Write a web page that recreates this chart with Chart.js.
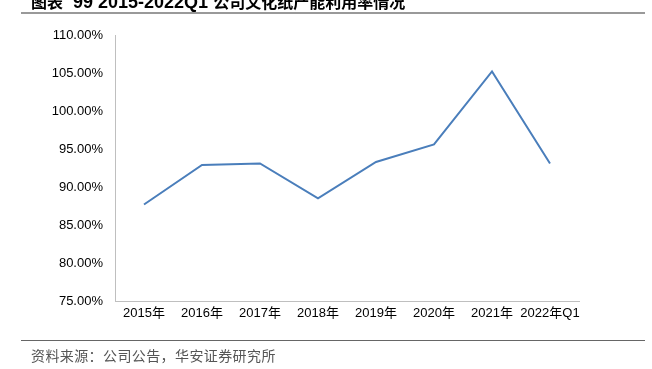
<!DOCTYPE html>
<html>
<head>
<meta charset="utf-8">
<script src="https://cdn.jsdelivr.net/npm/chart.js@4"></script>
<style>
  html, body { margin: 0; padding: 0; background: #fff; }
  #wrap { position: relative; width: 652px; height: 369px; overflow: hidden; }
  #myChart { position: absolute; left: 0; top: 0; }
  .title { position: absolute; left: 31px; top: -11px; white-space: nowrap; font-weight: bold; color: #000; font-family: "Liberation Sans", "Noto Sans CJK SC", sans-serif; }
  .title .lat { font-size: 18px; }
  .title .cjk { font-size: 16px; font-family: "Noto Sans CJK SC", sans-serif; }
  .topline { position: absolute; left: 21px; width: 624px; top: 12px; height: 2px; background: #999; }
  .botline { position: absolute; left: 21px; width: 624px; top: 340px; height: 1px; background: #666; }
  .source { position: absolute; left: 31px; top: 345px; font-size: 14px; color: #555; font-family: "Noto Sans CJK SC", sans-serif; letter-spacing: 0.4px; white-space: nowrap; }
</style>
</head>
<body>
<div id="wrap">
  <canvas id="myChart" width="652" height="369"></canvas>
  <div class="title"><span class="cjk">图表</span><span class="lat">&nbsp; 99 2015-2022Q1 </span><span class="cjk">公司文化纸产能利用率情况</span></div>
  <div class="topline"></div>
  <div class="botline"></div>
  <div class="source">资料来源：公司公告，华安证券研究所</div>
</div>
<script>
var years = ['2015年', '2016年', '2017年', '2018年', '2019年', '2020年', '2021年', '2022年Q1'];
var utilRate = [87.7, 92.9, 93.1, 88.5, 93.3, 95.6, 105.2, 93.1];
var yTicks = [75, 80, 85, 90, 95, 100, 105, 110];

var tickFont = { family: '"Liberation Sans", "Noto Sans CJK SC", sans-serif', size: 13 };

var ctx = document.getElementById('myChart').getContext('2d');
var myChart = new Chart(ctx, {
    type: 'line',
    data: {
      labels: years,
      datasets: [{
          data: utilRate,
          borderColor: '#4a7ebb',
          backgroundColor: '#4a7ebb',
          borderWidth: 2,
          pointRadius: 0,
          tension: 0
      }]
    },
    options: {
      responsive: false,
      animation: false,
      layout: { padding: { top: 35, right: 73, left: 0, bottom: 0 } },
      plugins: { legend: { display: false }, tooltip: { enabled: false } },
      scales: {
        x: {
          offset: true,
          grid: { display: false, drawTicks: false },
          border: { display: true, color: '#bfbfbf', width: 1 },
          ticks: { color: '#000', font: tickFont, padding: 5, maxRotation: 0, autoSkip: false },
          afterFit: function (s) { s.height = 68; }
        },
        y: {
          min: 75,
          max: 110,
          grid: { display: false, drawTicks: false },
          border: { display: true, color: '#bfbfbf', width: 1 },
          afterBuildTicks: function (s) { s.ticks = yTicks.map(function (v) { return { value: v }; }); },
          ticks: {
            color: '#000',
            font: tickFont,
            padding: 12,
            callback: function (v) { return v.toFixed(2) + '%'; }
          },
          afterFit: function (s) { s.width = 115; }
        }
      }
    }
});
</script>
</body>
</html>
